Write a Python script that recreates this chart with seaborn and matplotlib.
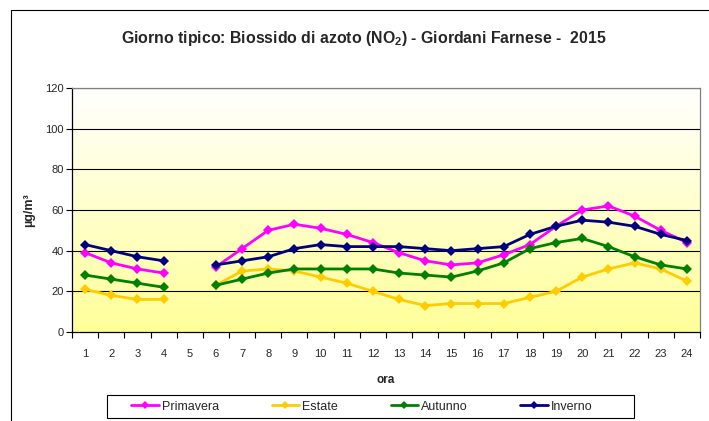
import numpy as np
import pandas as pd
import matplotlib
matplotlib.use('Agg')
import matplotlib.pyplot as plt
from matplotlib.lines import Line2D
from matplotlib.patches import Rectangle
import seaborn as sns

# ---- data ----
ore = list(range(1, 25))
nan = np.nan
primavera = [39, 34, 31, 29, nan, 32, 41, 50, 53, 51, 48, 44,
             39, 35, 33, 34, 38, 43, 52, 60, 62, 57, 50, 44]
estate = [21, 18, 16, 16, nan, 23, 30, 31, 30, 27, 24, 20,
          16, 13, 14, 14, 14, 17, 20, 27, 31, 34, 31, 25]
autunno = [28, 26, 24, 22, nan, 23, 26, 29, 31, 31, 31, 31,
           29, 28, 27, 30, 34, 41, 44, 46, 42, 37, 33, 31]
inverno = [43, 40, 37, 35, nan, 33, 35, 37, 41, 43, 42, 42,
           42, 41, 40, 41, 42, 48, 52, 55, 54, 52, 48, 45]

series = {'Primavera': primavera, 'Estate': estate,
          'Autunno': autunno, 'Inverno': inverno}
colori = {'Primavera': '#FF00FF', 'Estate': '#FFCC00',
          'Autunno': '#008000', 'Inverno': '#000080'}

sns.set_style('white')
plt.rcParams['font.family'] = ['Liberation Sans', 'DejaVu Sans']
plt.rcParams['mathtext.fontset'] = 'custom'
plt.rcParams['mathtext.rm'] = 'Liberation Sans:bold'
plt.rcParams['mathtext.it'] = 'Liberation Sans:bold'
plt.rcParams['mathtext.bf'] = 'Liberation Sans:bold'

W, H = 709, 421
fig = plt.figure(figsize=(W / 100, H / 100), dpi=100)
ax = fig.add_axes([72 / W, 1 - 332 / H, (700 - 72) / W, (332 - 88) / H])

# gradient background of the plot area (white at top -> pale yellow at bottom)
grad = np.linspace(0, 1, 256).reshape(-1, 1)
cmap = matplotlib.colors.LinearSegmentedColormap.from_list('bg', ['#FFFFFF', '#FFFF99'])
ax.imshow(grad, extent=[0.5, 24.5, 0, 120], aspect='auto', cmap=cmap,
          origin='upper', zorder=0)

for yv in range(20, 121, 20):
    ax.axhline(yv, color='black', lw=0.8, zorder=1)

for nome, valori in series.items():
    df = pd.DataFrame({'ora': ore, 'valore': valori})
    # missing hour breaks the line: one unit per contiguous segment
    df['seg'] = df['valore'].isna().cumsum()
    df = df.dropna()
    sns.lineplot(data=df, x='ora', y='valore', units='seg', estimator=None, ax=ax,
                 color=colori[nome], marker='D', markersize=5, markeredgewidth=0,
                 lw=2, zorder=3, legend=False)

ax.set_xlim(0.5, 24.5)
ax.set_ylim(0, 120)
ax.set_yticks(range(0, 121, 20))
ax.set_xticks(ore)
ax.set_xticks(np.arange(0.5, 25, 1), minor=True)
ax.tick_params(axis='x', which='major', length=0, labelsize=8, pad=12)
ax.tick_params(axis='x', which='minor', length=4, width=0.8, direction='out', color='black')
ax.tick_params(axis='y', length=4, width=0.8, direction='out', labelsize=8, color='black', pad=2)
ax.xaxis.set_ticks_position('bottom')
ax.yaxis.set_ticks_position('left')

for s in ['left', 'bottom']:
    ax.spines[s].set_color('black')
    ax.spines[s].set_linewidth(0.9)
for s in ['right', 'top']:
    ax.spines[s].set_color('#808080')
    ax.spines[s].set_linewidth(0.9)

ax.set_xlabel('ora', fontsize=8.5, fontweight='bold', labelpad=11)
ax.set_ylabel('µg/m³', fontsize=9, fontweight='bold', labelpad=7)

fig.text(364 / W, 1 - 38 / H,
         r'Giorno tipico: Biossido di azoto (NO$_2$) - Giordani Farnese -  2015',
         ha='center', va='center', fontsize=11.4, fontweight='bold')

# legend box as in the reference, entries drawn inside it
fig.add_artist(Rectangle((107 / W, 1 - 418 / H), (634 - 107) / W, 23 / H,
                         transform=fig.transFigure, fill=False, ec='black', lw=0.8))
handles = [Line2D([], [], color=colori[n], lw=2, marker='D', markersize=4, markeredgewidth=0)
           for n in series]
leg = fig.legend(handles, list(series.keys()), loc='center',
                 bbox_to_anchor=(362 / W, 1 - 406.5 / H), ncol=4,
                 fontsize=9, frameon=False,
                 handlelength=2.2, handletextpad=0.25, columnspacing=4.2,
                 borderpad=0, borderaxespad=0)

# outer chart frame (only left and top edges visible in the reference)
fig.add_artist(Line2D([11 / W, 11 / W, 1.0], [0.0, 1 - 10 / H, 1 - 10 / H],
                      transform=fig.transFigure, color='black', lw=0.8))

fig.savefig('out.png', dpi=100)
